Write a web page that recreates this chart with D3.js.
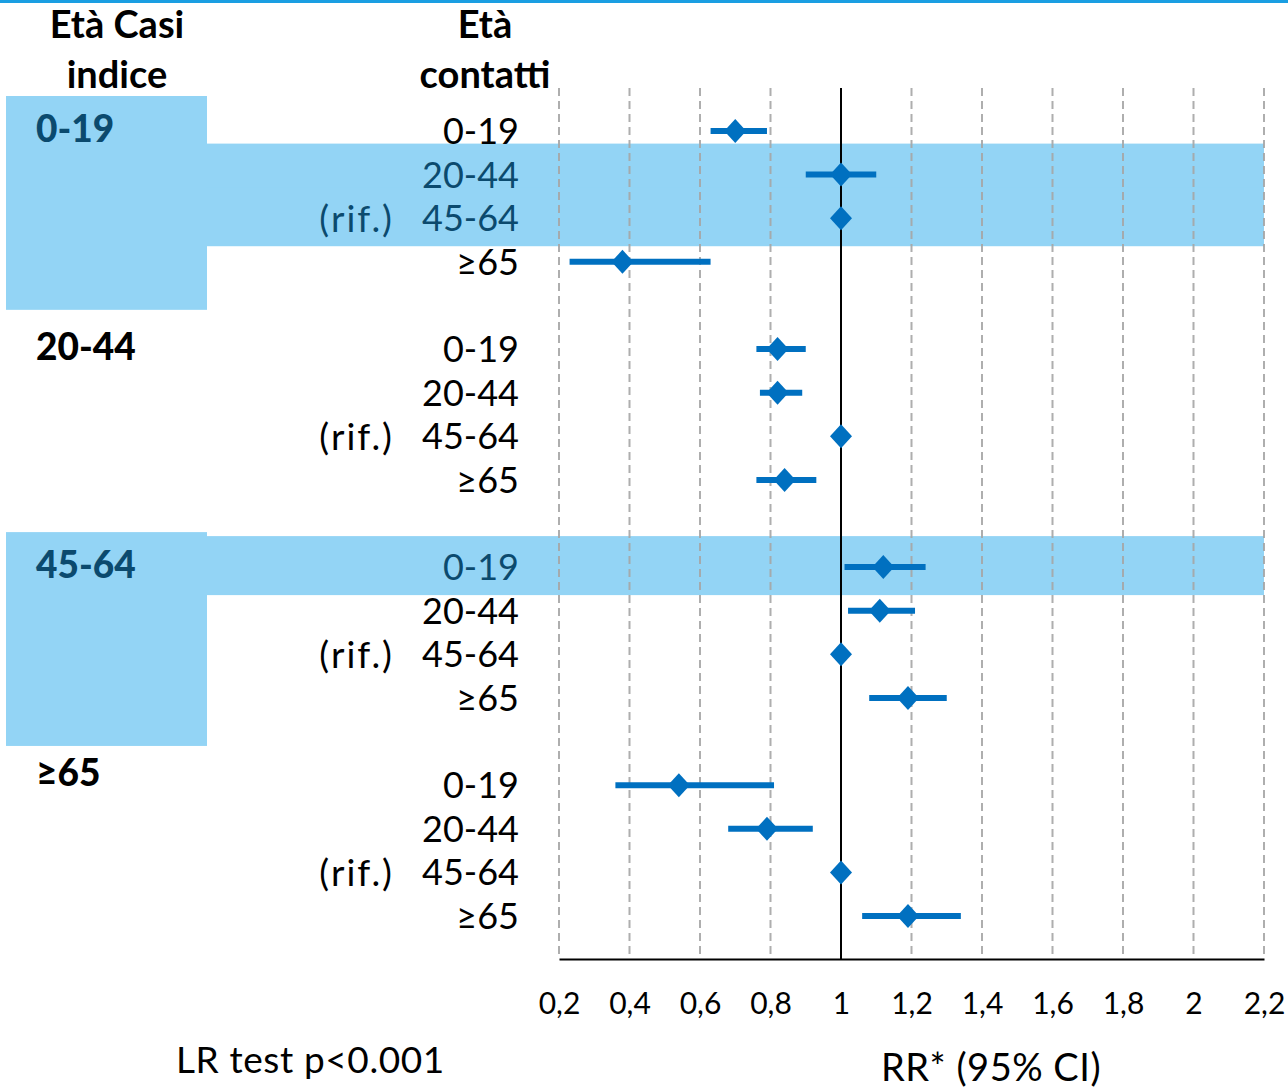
<!DOCTYPE html>
<html>
<head>
<meta charset="utf-8">
<script src="https://cdn.jsdelivr.net/npm/d3@7/dist/d3.min.js"></script>
<style>
  body { margin: 0; background: #fff; }
  text { font-family: Lato, "Open Sans", sans-serif; }
</style>
</head>
<body>
<script>
const width = 1288;
const height = 1090;

// data
const indexGroups = ['0-19', '20-44', '45-64', '≥65'];
const contactAges = ['0-19', '20-44', '45-64', '≥65'];
const refRow = 2;
const refLabel = '(rif.)';
const rr = [
  [0.70, 1.00, 1, 0.38],
  [0.82, 0.82, 1, 0.84],
  [1.12, 1.11, 1, 1.19],
  [0.54, 0.79, 1, 1.19]
];
const ciLow = [
  [0.63, 0.90, null, 0.23],
  [0.76, 0.77, null, 0.76],
  [1.01, 1.02, null, 1.08],
  [0.36, 0.68, null, 1.06]
];
const ciHigh = [
  [0.79, 1.10, null, 0.63],
  [0.90, 0.89, null, 0.93],
  [1.24, 1.21, null, 1.30],
  [0.81, 0.92, null, 1.34]
];
const xTicks = [0.2, 0.4, 0.6, 0.8, 1, 1.2, 1.4, 1.6, 1.8, 2, 2.2];
const highlightGroups = [0, 2];
const highlightRows = [[0, 1], [0, 2], [2, 0]];

const blue = '#0070C0';
const band = '#93D4F5';
const darkBlue = '#0B4A6E';

let svg = d3.select('body')
            .append('svg')
            .attr('width', width)
            .attr('height', height);

svg.append('rect').attr('width', width).attr('height', height).attr('fill', '#fff');
svg.append('rect').attr('x', 0).attr('y', 0).attr('width', width).attr('height', 3).attr('fill', '#1A9EE2');

let xScale = d3.scaleLinear()
               .domain([0.2, 2.2])
               .range([559, 1264]);

// slot index: 4 rows per group + 1 blank
let yScale = d3.scaleLinear()
               .domain([0, 18])
               .range([131, 916]);
const slot = (g, r) => g * 5 + r;
const isHi = (g, r) => highlightRows.some(h => h[0] === g && h[1] === r);

// highlight blocks
highlightGroups.forEach(g => {
  svg.append('rect')
     .attr('x', 6)
     .attr('y', yScale(slot(g, 0)) - 35)
     .attr('width', 201)
     .attr('height', yScale(slot(g, 3)) + 48 - (yScale(slot(g, 0)) - 35))
     .attr('fill', band);
});
highlightRows.forEach(([g, r]) => {
  let y = yScale(slot(g, r));
  svg.append('rect')
     .attr('x', 206)
     .attr('y', y - 31)
     .attr('width', xScale(2.2) - 206)
     .attr('height', 59)
     .attr('fill', band);
});

// gridlines
svg.append('g')
   .selectAll('line')
   .data(xTicks.filter(d => d !== 1))
   .enter()
   .append('line')
   .attr('x1', d => xScale(d)).attr('x2', d => xScale(d))
   .attr('y1', 88).attr('y2', 958)
   .attr('stroke', '#A6A6A6')
   .attr('stroke-width', 2)
   .attr('stroke-dasharray', '8,5')
   .attr('opacity', 0.9);

// x axis
let xAxis = d3.axisBottom(xScale)
              .tickValues(xTicks)
              .tickSize(0)
              .tickPadding(34)
              .tickFormat(d => String(d).replace('.', ','));
let gx = svg.append('g')
   .attr('transform', 'translate(0, 959)')
   .call(xAxis);
gx.select('.domain').attr('stroke', '#000').attr('stroke-width', 2);
gx.selectAll('text').attr('font-size', 30).attr('fill', '#000')
  .style('font-family', 'Lato, sans-serif');

// reference line
svg.append('line')
   .attr('x1', xScale(1)).attr('x2', xScale(1))
   .attr('y1', 88).attr('y2', 959)
   .attr('stroke', '#000').attr('stroke-width', 2);

// points
const points = [];
indexGroups.forEach((g, gi) => {
  contactAges.forEach((c, ci) => {
    points.push({ g: gi, r: ci, rr: rr[gi][ci], lo: ciLow[gi][ci], hi: ciHigh[gi][ci] });
  });
});

svg.append('g')
   .selectAll('line')
   .data(points.filter(d => d.lo !== null))
   .enter()
   .append('line')
   .attr('x1', d => xScale(d.lo)).attr('x2', d => xScale(d.hi))
   .attr('y1', d => yScale(slot(d.g, d.r))).attr('y2', d => yScale(slot(d.g, d.r)))
   .attr('stroke', blue).attr('stroke-width', 6);

svg.append('g')
   .selectAll('path')
   .data(points)
   .enter()
   .append('path')
   .attr('d', 'M0,-12 L11,0 L0,12 L-11,0 Z')
   .attr('transform', d => `translate(${xScale(d.rr)}, ${yScale(slot(d.g, d.r))})`)
   .attr('fill', blue);

// row labels
svg.append('g')
   .selectAll('text')
   .data(points)
   .enter()
   .append('text')
   .attr('x', 519)
   .attr('y', d => yScale(slot(d.g, d.r)))
   .attr('dy', '0.36em')
   .attr('text-anchor', 'end')
   .attr('font-size', 36)
   .attr('fill', d => isHi(d.g, d.r) ? darkBlue : '#000')
   .text(d => contactAges[d.r]);

svg.append('g')
   .selectAll('text')
   .data(indexGroups)
   .enter()
   .append('text')
   .attr('x', 394)
   .attr('y', (d, i) => yScale(slot(i, refRow)))
   .attr('dy', '0.36em')
   .attr('text-anchor', 'end')
   .attr('font-size', 37)
   .attr('letter-spacing', 2)
   .attr('fill', (d, i) => isHi(i, refRow) ? darkBlue : '#000')
   .text(refLabel);

// group labels
svg.append('g')
   .selectAll('text')
   .data(indexGroups)
   .enter()
   .append('text')
   .attr('x', 36)
   .attr('y', (d, i) => yScale(slot(i, 0)) - (i === 3 ? 12 : 2))
   .attr('dy', '0.36em')
   .attr('font-size', 37)
   .attr('font-weight', 900)
   .attr('fill', (d, i) => highlightGroups.includes(i) ? darkBlue : '#000')
   .text(d => d);

// headers
const header = (x, y, t) => svg.append('text')
   .attr('x', x).attr('y', y)
   .attr('text-anchor', 'middle')
   .attr('font-size', 38)
   .attr('font-weight', 'bold')
   .text(t);
header(117, 38, 'Età Casi');
header(117, 88, 'indice');
header(485, 38, 'Età');
header(485, 88, 'contatti');

svg.append('text')
   .attr('x', 176).attr('y', 1073)
   .attr('font-size', 37)
   .attr('letter-spacing', 0.6)
   .text('LR test p<0.001');

svg.append('text')
   .attr('x', 991).attr('y', 1081)
   .attr('text-anchor', 'middle')
   .attr('font-size', 38)
   .attr('letter-spacing', 0.5)
   .text('RR* (95% CI)');
</script>
</body>
</html>
